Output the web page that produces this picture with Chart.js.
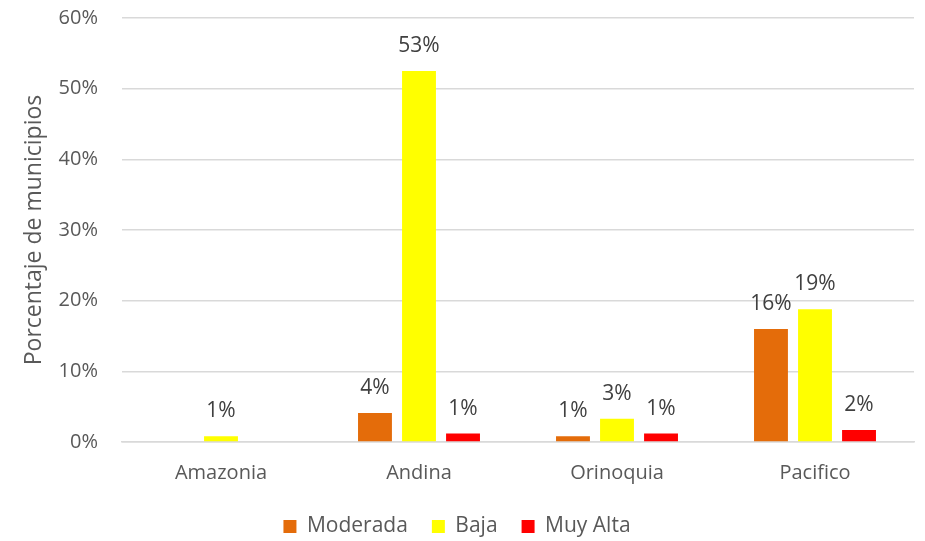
<!DOCTYPE html>
<html>
<head>
<meta charset="utf-8">
<script src="https://cdn.jsdelivr.net/npm/chart.js@4"></script>
<style>
    body { margin: 0; background: #ffffff; }
    #wrap { width: 925px; height: 541px; }
</style>
</head>
<body>
<div id="wrap"><canvas id="riskChart" width="925" height="541"></canvas></div>
<script>
const regions = ['Amazonia', 'Andina', 'Orinoquia', 'Pacifico'];
const moderada = [null, 4.1, 0.8, 16.0];
const baja = [0.8, 52.5, 3.3, 18.8];
const muyAlta = [null, 1.2, 1.2, 1.7];
const yTicks = [0, 10, 20, 30, 40, 50, 60];

const textColor = '#595959';
const fontFamily = '"Open Sans", Lato, sans-serif';

// writes the rounded percentage above every bar
const barLabels = {
    id: 'barLabels',
    afterDatasetsDraw(chart) {
        const ctx = chart.ctx;
        ctx.save();
        ctx.font = '21px ' + fontFamily;
        ctx.fillStyle = '#404040';
        ctx.textAlign = 'center';
        ctx.textBaseline = 'middle';
        chart.data.datasets.forEach(function (ds, i) {
            const meta = chart.getDatasetMeta(i);
            meta.data.forEach(function (bar, j) {
                const v = ds.data[j];
                if (v === null || v === undefined) return;
                ctx.fillText(Math.round(v) + '%', bar.x, bar.y - 25);
            });
        });
        ctx.restore();
    }
};

const ctx = document.getElementById('riskChart').getContext('2d');
const riskChart = new Chart(ctx, {
    type: 'bar',
    data: {
        labels: regions,
        datasets: [
            { label: 'Moderada', data: moderada, backgroundColor: '#E46C0A' },
            { label: 'Baja', data: baja, backgroundColor: '#FFFF00' },
            { label: 'Muy Alta', data: muyAlta, backgroundColor: '#FF0000' }
        ]
    },
    options: {
        responsive: false,
        animation: false,
        layout: { autoPadding: false, padding: { top: 18, right: 11, bottom: -6, left: 0 } },
        datasets: {
            bar: { categoryPercentage: 0.667, barPercentage: 0.77 }
        },
        scales: {
            x: {
                afterFit(scale) { scale.height = 50; },
                grid: { display: false, drawTicks: false },
                border: { display: true, color: '#d9d9d9', width: 1.5 },
                ticks: { color: textColor, font: { size: 20, family: fontFamily }, padding: 19 }
            },
            y: {
                min: 0,
                max: 60,
                afterBuildTicks(scale) {
                    scale.ticks = yTicks.map(function (v) { return { value: v }; });
                },
                afterFit(scale) { scale.width = 122; },
                // invisible tick marks keep the labels clear of the grid
                grid: { color: '#d9d9d9', lineWidth: 1.5, drawTicks: true, tickLength: 22, tickColor: 'rgba(0,0,0,0)' },
                border: { display: false },
                ticks: {
                    color: textColor,
                    font: { size: 20, family: fontFamily },
                    padding: 2,
                    callback: function (v) { return v + '%'; }
                },
                title: {
                    display: true,
                    text: 'Porcentaje de municipios',
                    color: textColor,
                    font: { size: 23, family: fontFamily },
                    padding: { top: 21, bottom: 0 }
                }
            }
        },
        plugins: {
            legend: {
                position: 'bottom',
                labels: {
                    color: textColor,
                    font: { size: 21, family: fontFamily },
                    boxWidth: 13,
                    boxHeight: 13,
                    padding: 24
                }
            },
            tooltip: { enabled: false }
        }
    },
    plugins: [barLabels]
});
</script>
</body>
</html>
